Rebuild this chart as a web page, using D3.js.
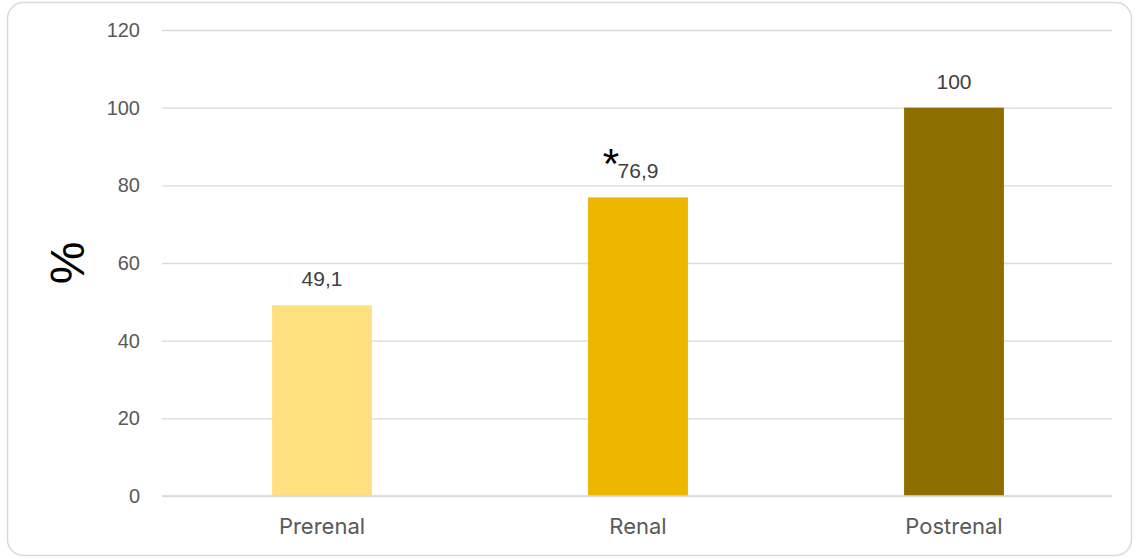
<!DOCTYPE html>
<html>
<head>
<meta charset="utf-8">
<script src="https://cdn.jsdelivr.net/npm/d3@7"></script>
<style>
  html, body { margin: 0; padding: 0; background: #fff; }
  svg { display: block; }
</style>
</head>
<body>
<svg id="chart" width="1139" height="558"></svg>
<script>
// Share of patients per AKI type (%)
const categories = ["Prerenal", "Renal", "Postrenal"];
const values = [49.1, 76.9, 100];
const valueLabels = ["49,1", "76,9", "100"];
const colors = ["#FFE081", "#EDB600", "#8E6E00"];
const tickValues = [0, 20, 40, 60, 80, 100, 120];
const significant = [false, true, false];

const svg = d3.select("#chart");
const W = 1139, H = 558;
const numFont = "'Liberation Sans', Arial, sans-serif";

// outer frame
svg.append("rect")
  .attr("x", 7.5).attr("y", 2.5)
  .attr("width", W - 15).attr("height", H - 5)
  .attr("rx", 16).attr("ry", 16)
  .attr("fill", "#fff")
  .attr("stroke", "#d9d9d9").attr("stroke-width", 1.5);

const plot = { left: 164, right: 1112, top: 30, bottom: 496 };

const x = d3.scaleBand()
  .domain(categories)
  .range([plot.left, plot.right])
  .paddingInner(0.684)
  .paddingOuter(0.342);

const y = d3.scaleLinear()
  .domain([0, 120])
  .range([plot.bottom, plot.top]);

// gridlines + y tick labels
const yAxis = d3.axisLeft(y)
  .tickValues(tickValues)
  .tickSize(-(1112 - 162))
  .tickPadding(22)
  .tickFormat(d3.format("d"));

const gy = svg.append("g")
  .attr("transform", `translate(162,0)`)
  .call(yAxis);
gy.select(".domain").remove();
gy.selectAll(".tick line")
  .attr("stroke", "#d9d9d9").attr("stroke-width", 1.3);
gy.selectAll(".tick text")
  .attr("fill", "#595959")
  .style("font-family", numFont)
  .style("font-size", "20px");

// bars
svg.append("g").selectAll("rect")
  .data(categories)
  .join("rect")
  .attr("x", d => x(d))
  .attr("width", x.bandwidth())
  .attr("y", (d, i) => y(values[i]))
  .attr("height", (d, i) => y(0) - y(values[i]))
  .attr("fill", (d, i) => colors[i]);

// baseline
svg.append("line")
  .attr("x1", 162).attr("x2", 1112)
  .attr("y1", y(0)).attr("y2", y(0))
  .attr("stroke", "#d9d9d9").attr("stroke-width", 1.5);

// value labels
svg.append("g").selectAll("text")
  .data(categories)
  .join("text")
  .attr("x", d => x(d) + x.bandwidth() / 2)
  .attr("y", (d, i) => y(values[i]) - 19)
  .attr("text-anchor", "middle")
  .attr("fill", "#404040")
  .style("font-family", numFont)
  .style("font-size", "21px")
  .text((d, i) => valueLabels[i]);

// significance marker
svg.append("g").selectAll("text")
  .data(categories.filter((d, i) => significant[i]))
  .join("text")
  .attr("x", d => x(d) + x.bandwidth() / 2 - 27)
  .attr("y", d => y(values[categories.indexOf(d)]) - 19)
  .attr("text-anchor", "middle")
  .attr("fill", "#000")
  .style("font-family", numFont)
  .style("font-size", "42px")
  .text("*");

// category labels
const xAxis = d3.axisBottom(x).tickSize(0).tickPadding(0);
const gx = svg.append("g")
  .attr("transform", `translate(0,${y(0)})`)
  .call(xAxis);
gx.select(".domain").remove();
gx.selectAll(".tick text")
  .attr("y", 38)
  .attr("dy", 0)
  .attr("fill", "#595959")
  .style("font-family", "Inter, 'Noto Sans', sans-serif")
  .style("font-size", "22px");

// y-axis title
svg.append("text")
  .attr("transform", "translate(84,263) rotate(-90)")
  .attr("text-anchor", "middle")
  .attr("fill", "#000")
  .style("font-family", numFont)
  .style("font-size", "48px")
  .text("%");
</script>
</body>
</html>
